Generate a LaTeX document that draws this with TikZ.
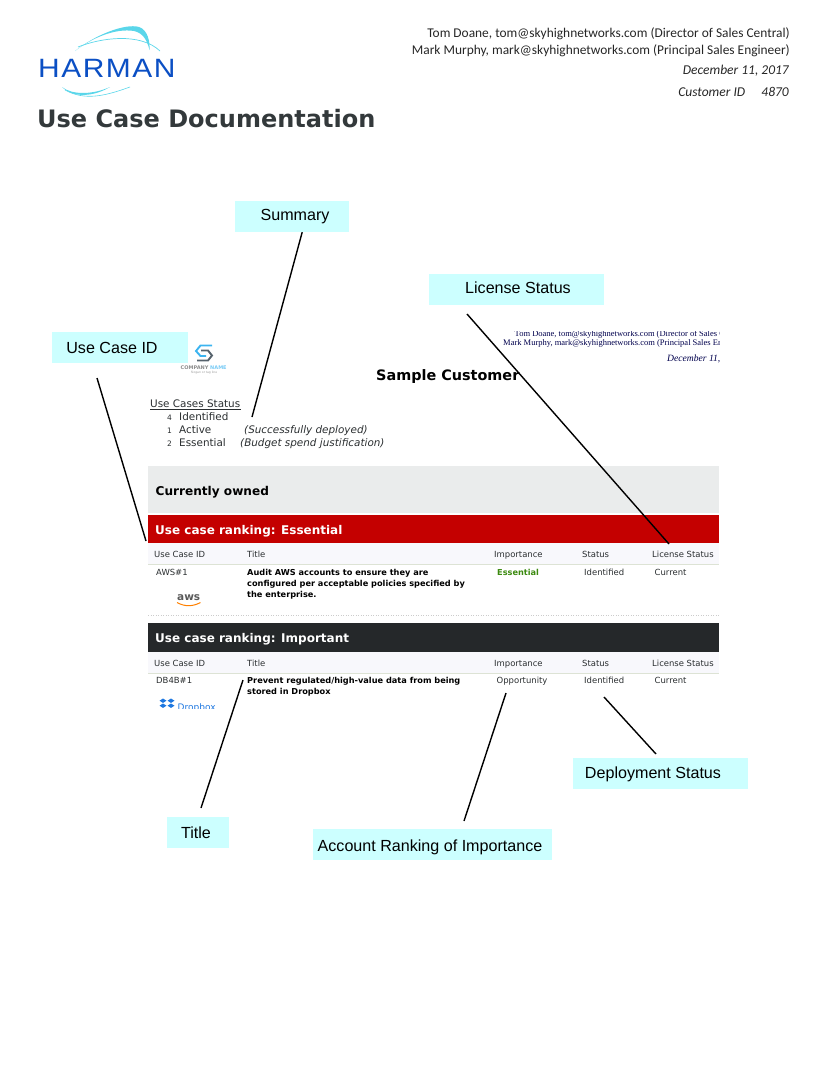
\documentclass[tikz,border=0pt]{standalone}
\usepackage{fontspec}
\setmainfont{DejaVu Sans}
\newfontfamily\headfont{Carlito}
\newfontfamily\calloutfont{Liberation Sans}
\newfontfamily\letterfont{Liberation Serif}
\newfontfamily\logofont[LetterSpace=5]{Liberation Sans}
\newcommand{\fsz}[1]{\fontsize{#1}{#1}\selectfont}
\newcommand{\calltext}[3]{\hspace{#1}\raisebox{#2}[0pt][0pt]{#3}}
\definecolor{calloutcyan}{HTML}{CCFFFF}
\definecolor{swoosh}{HTML}{5AD6EA}
\definecolor{harmanblue}{HTML}{0B4FC4}
\definecolor{titlegrey}{HTML}{33393B}
\definecolor{ownedgrey}{HTML}{EAECEC}
\definecolor{rankred}{HTML}{C40000}
\definecolor{rankdark}{HTML}{25282A}
\definecolor{headrow}{HTML}{F8F8FC}
\definecolor{rowrule}{HTML}{DDE3D5}
\definecolor{essgreen}{HTML}{3C8A10}
\definecolor{inktext}{HTML}{2A2E30}
\definecolor{dropblue}{HTML}{1F78E0}
\definecolor{logoblue}{HTML}{3CB4F0}
\definecolor{logodark}{HTML}{56626C}
\tikzset{
  callout/.style={fill=calloutcyan,inner sep=0pt,minimum height=31pt,font=\calloutfont\fsz{16.1}},
  callline/.style={line width=1.4pt,black},
  headtxt/.style={anchor=base east,inner sep=0pt,text=black!85,font=\headfont\fsz{13.4}},
  celltxt/.style={anchor=base west,inner sep=0pt,text=inktext,font=\fsz{8.45}},
  boldtxt/.style={anchor=base west,inner sep=0pt,text=black,font=\bfseries\fsz{8.2}},
  bartxt/.style={anchor=base west,inner sep=0pt,text=white,font=\bfseries\fsz{12}},
  statustxt/.style={anchor=base west,inner sep=0pt,text=inktext,font=\fsz{10.4}},
  lettertxt/.style={anchor=base west,inner sep=0pt,text=black!70!blue,font=\letterfont\fsz{8.5}}
}
\begin{document}
\begin{tikzpicture}[x=1pt,y=-1pt]
  \useasboundingbox (0,0) rectangle (825,1068);

  % Logo
  \fill[swoosh] (75,51) .. controls (95,35) and (125,23) .. (139,27)
    .. controls (148,30) and (150,42) .. (149.5,50)
    .. controls (147,40) and (143,33) .. (134,31)
    .. controls (115,28) and (92,38) .. (75,51) -- cycle;
  \draw[swoosh,line width=0.7pt] (78,47) .. controls (100,38) and (140,32) .. (160,51);
  \fill[swoosh] (62,87) .. controls (70,96) and (90,99) .. (110,87)
    .. controls (92,95) and (72,95) .. (62,87) -- cycle;
  \draw[swoosh,line width=0.6pt] (65,90) .. controls (85,101) and (105,96) .. (130,87);
  \node[anchor=base west,inner sep=0pt,text=harmanblue,font=\logofont\fsz{26.5},xscale=1.13] (harman) at (38,77.5) {HARMAN};
  \node[anchor=base west,inner sep=0pt,text=titlegrey,font=\bfseries\fsz{24}] (doctitle) at (37,127) {Use Case Documentation};

  % Cabecera derecha
  \node[headtxt] (tomline) at (790,37) {Tom Doane, tom@skyhighnetworks.com (Director of Sales Central)};
  \node[headtxt] (markline) at (790,54.5) {Mark Murphy, mark@skyhighnetworks.com (Principal Sales Engineer)};
  \node[headtxt,font=\headfont\itshape\fsz{13.5}] (dateline) at (789,74.5) {December 11, 2017};
  \node[headtxt,font=\headfont\itshape\fsz{13.5}] (custline) at (789,96) {Customer ID\hspace{1.2em}4870};

  % Documento de muestra
  \begin{scope}
    \clip (440,331) rectangle (719,420);
    \node[lettertxt] (tomsmall) at (514.5,336) {Tom Doane, tom@skyhighnetworks.com (Director of Sales Central)};
    \node[lettertxt] (marksmall) at (503,345) {Mark Murphy, mark@skyhighnetworks.com (Principal Sales Engineer)};
    \node[lettertxt,font=\letterfont\itshape\fsz{9.6}] (datesmall) at (667,361) {December 11, 2017};
  \end{scope}
  \node[anchor=base west,inner sep=0pt,font=\bfseries\fsz{14.4}] (customer) at (376,380) {Sample Customer};

  % Logo de la empresa
  \draw[logoblue,line width=1.9pt] (212,345.5) -- (200.5,345.5) -- (196,351) -- (200.5,356) -- (206,356);
  \draw[logodark,line width=1.9pt] (201,350.5) -- (208,350.5) -- (212,355.5) -- (208,360.5) -- (197,360.5);
  \node[anchor=base west,inner sep=0pt,text=black!45,font=\bfseries\fsz{5}] (company) at (180.5,369.5) {COMPANY \textcolor{logoblue!70}{NAME}};
  \node[anchor=base,inner sep=0pt,text=black!40,font=\fsz{3}] (tagline) at (204,373.5) {Slogan or tag line};

  % Resumen de estados
  \node[anchor=base west,inner sep=0pt,text=inktext,font=\fsz{10.4}] (statushead) at (150,407) {Use Cases Status};
  \draw[inktext,line width=0.7pt] (150,409.5) -- (240.5,409.5);
  \foreach \n/\s/\yy [count=\i] in {4/Identified/420, 1/Active/433.5, 2/Essential/446} {
    \node[anchor=base west,inner sep=0pt,text=inktext,font=\fsz{7.5}] (count\i) at (167,\yy) {\n};
    \node[statustxt] (state\i) at (179,\yy) {\s};
  }
  \node[statustxt,font=\itshape\fsz{10.4}] (activenote) at (244,433.5) {(Successfully deployed)};
  \node[statustxt,font=\itshape\fsz{10.4}] (essentialnote) at (240,446) {(Budget spend justification)};

  % Bandas
  \fill[ownedgrey] (148,466) rectangle (719,513);
  \node[anchor=base west,inner sep=0pt,font=\bfseries\fsz{12.1}] (owned) at (155.5,495.5) {Currently owned};
  \fill[rankred] (148,515) rectangle (719,543);
  \node[bartxt] (essentialbar) at (155,534) {Use case ranking: Essential};
  \fill[rankdark] (148,623) rectangle (719,652);
  \node[bartxt] (importantbar) at (155,642.5) {Use case ranking: Important};

  % Filas de encabezado de la tabla
  \foreach \ytop/\ybase/\t in {543/557/a, 652/666/b} {
    \fill[headrow] (148,\ytop) rectangle (719,\ytop+21);
    \draw[rowrule,line width=0.9pt] (148,\ytop+21) -- (719,\ytop+21);
    \node[celltxt] (case\t) at (154,\ybase) {Use Case ID};
    \node[celltxt] (title\t) at (247,\ybase) {Title};
    \node[celltxt] (import\t) at (494,\ybase) {Importance};
    \node[celltxt] (stat\t) at (582,\ybase) {Status};
    \node[celltxt] (lic\t) at (652,\ybase) {License Status};
  }
  \draw[black!20,dotted,line width=0.5pt] (148,615) -- (719,615);

  % Primera fila
  \node[celltxt] (awsid) at (156,575) {AWS\#1};
  \node[boldtxt] (awsa) at (247,575) {Audit AWS accounts to ensure they are};
  \node[boldtxt] (awsb) at (247,586) {configured per acceptable policies specified by};
  \node[boldtxt] (awsc) at (247,597) {the enterprise.};
  \node[boldtxt,text=essgreen] (awsrank) at (497,575) {Essential};
  \node[celltxt] (awsstat) at (584,575) {Identified};
  \node[celltxt] (awslic) at (654.5,575) {Current};
  \node[anchor=base west,inner sep=0pt,text=black!65,font=\bfseries\fsz{10.5}] (awslogo) at (177,600) {aws};
  \draw[orange,line width=1pt] (177,602.5) .. controls (185,607) and (193,606.5) .. (200.5,602.5);

  % Segunda fila
  \node[celltxt] (dbxid) at (156,683.5) {DB4B\#1};
  \node[boldtxt] (dbxa) at (247,683.5) {Prevent regulated/high-value data from being};
  \node[boldtxt] (dbxb) at (247,694.5) {stored in Dropbox};
  \node[celltxt] (dbxrank) at (496.5,683.5) {Opportunity};
  \node[celltxt] (dbxstat) at (584,683.5) {Identified};
  \node[celltxt] (dbxlic) at (654.5,683.5) {Current};
  \begin{scope}
    \clip (150,696) rectangle (230,708);
    \foreach \dx in {163,171} {
      \fill[dropblue] (\dx,698.5) -- ++(3.5,2.2) -- ++(-3.5,2.2) -- ++(-3.5,-2.2) -- cycle;
      \fill[dropblue] (\dx,703.5) -- ++(3.5,2.2) -- ++(-3.5,2.2) -- ++(-3.5,-2.2) -- cycle;
    }
    \node[anchor=base west,inner sep=0pt,text=dropblue,font=\fsz{9}] (dbxlogo) at (177.5,710) {Dropbox};
  \end{scope}

  % Etiquetas
  \node[callout,minimum width=114pt] (summary) at (292,216.5) {\calltext{6pt}{-3.5pt}{Summary}};
  \node[callout,minimum width=175pt] (license) at (516.5,289.5) {\calltext{3pt}{-3.5pt}{License Status}};
  \node[callout,minimum width=136pt] (caseid) at (120,347.5) {\calltext{-16pt}{-5.5pt}{Use Case ID}};
  \node[callout,minimum width=62pt] (titlebox) at (198,832.5) {\calltext{-4pt}{-5.5pt}{Title}};
  \node[callout,minimum width=239pt] (account) at (432.5,844.5) {\calltext{-5pt}{-6.5pt}{Account Ranking of Importance}};
  \node[callout,minimum width=175pt] (deploy) at (660.5,773.5) {\calltext{-15pt}{-4.5pt}{Deployment Status}};

  % Puntas de las lineas
  \coordinate (summarytip) at (252,417);
  \coordinate (licensefrom) at (467,314);
  \coordinate (licensetip) at (669,544);
  \coordinate (caseidfrom) at (97,378);
  \coordinate (caseidtip) at (146,541);
  \coordinate (titlefrom) at (201,808);
  \coordinate (titletip) at (243,680);
  \coordinate (accountfrom) at (464,821);
  \coordinate (accounttip) at (506,693);
  \coordinate (deployfrom) at (656,754);
  \coordinate (deploytip) at (604,697);

  \draw[callline] (summary.-57) -- (summarytip);
  \draw[callline] (licensefrom) -- (licensetip);
  \draw[callline] (caseidfrom) -- (caseidtip);
  \draw[callline] (titlefrom) -- (titletip);
  \draw[callline] (accountfrom) -- (accounttip);
  \draw[callline] (deployfrom) -- (deploytip);
\end{tikzpicture}
\end{document}
